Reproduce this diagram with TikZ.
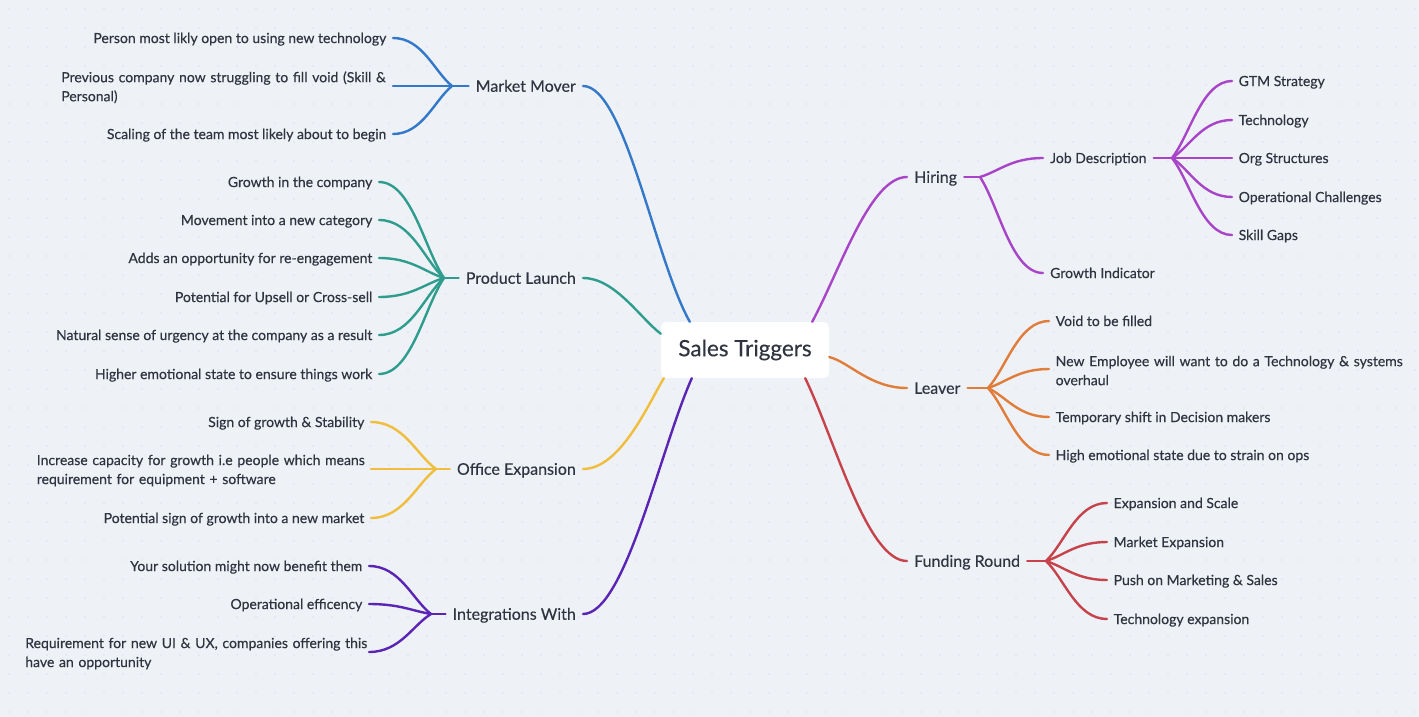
\documentclass[tikz,border=0pt]{standalone}
\usepackage{fontspec}
\setmainfont{Lato}[FakeBold=0.3]
\usetikzlibrary{calc}
\definecolor{bgc}{HTML}{EEF1F6}
\definecolor{dotc}{HTML}{DFE3EA}
\definecolor{txt}{HTML}{2F3440}
\definecolor{cblue}{HTML}{3479C9}
\definecolor{cteal}{HTML}{2E9D8E}
\definecolor{cyel}{HTML}{F0BE3C}
\definecolor{cind}{HTML}{5A24B4}
\definecolor{cmag}{HTML}{A844C8}
\definecolor{cora}{HTML}{E07D3A}
\definecolor{cred}{HTML}{C6434C}
\newcommand\firstline[1]{\mbox{\rule{0pt}{13.5pt}#1}}
\tikzset{
 rootbox/.style={fill=white, rounded corners=5pt, minimum width=168pt, minimum height=56pt, font=\fontsize{22.5}{26}\selectfont, text=txt, inner sep=0pt},
 topic/.style={font=\fontsize{16}{19}\selectfont, text=txt, inner xsep=7pt, inner ysep=0pt, text height=14.8pt, text depth=3.3pt},
 leaf/.style={font=\fontsize{14}{19}\selectfont, text=txt, inner xsep=6.5pt, inner ysep=0pt, text height=13pt, text depth=2.9pt},
 leaftwo/.style={font=\fontsize{14}{19}\selectfont, text=txt, inner xsep=6.5pt, inner ysep=0pt, align=left},
 link/.style={line width=2.4pt, line cap=round, line join=round},
 branch/.style={to path={let \p1=(\tikztostart), \p2=(\tikztotarget) in .. controls ({\x1+0.3*(\x2-\x1)},{\y1+0.3*(\y2-\y1)}) and ({0.5*(\x1+\x2)},\y2) .. (\tikztotarget)}},
}
\begin{document}
\begin{tikzpicture}[x=1pt,y=-1pt]
\fill[bgc] (0,0) rectangle (1419,717);
\useasboundingbox (0,0) rectangle (1419,717);
\foreach \i in {0,...,74}{\foreach \j in {0,...,37}{\fill[dotc] ({\i*19+9},{\j*19+9}) circle (0.9pt);}}

\node[rootbox] (root) at (745,350) {Sales Triggers};

% left topics
\node[topic, anchor=east] (mm) at (583,86) {Market Mover};
\node[topic, anchor=east] (pl) at (583,278) {Product Launch};
\node[topic, anchor=east] (oe) at (583,469) {Office Expansion};
\node[topic, anchor=east] (iw) at (583,614) {Integrations With};
\coordinate (mmf) at (452,86);
\coordinate (plf) at (444,278);
\coordinate (oef) at (436,469);
\coordinate (iwf) at (431,614);

% market mover leaves
\node[leaf, anchor=east] (mm1) at (393,38) {Person most likly open to using new technology};
\node[leaftwo, anchor=east, text width=325pt] (mm2) at (393,86) {\firstline{Previous company now struggling to fill void (Skill \&}\\Personal)};
\node[leaf, anchor=east] (mm3) at (393,134) {Scaling of the team most likely about to begin};

% product launch leaves
\node[leaf, anchor=east] (pl1) at (379,182) {Growth in the company};
\node[leaf, anchor=east] (pl2) at (379,220) {Movement into a new category};
\node[leaf, anchor=east] (pl3) at (379,258) {Adds an opportunity for re-engagement};
\node[leaf, anchor=east] (pl4) at (379,297) {Potential for Upsell or Cross-sell};
\node[leaf, anchor=east] (pl5) at (379,335) {Natural sense of urgency at the company as a result};
\node[leaf, anchor=east] (pl6) at (379,374) {Higher emotional state to ensure things work};

% office expansion leaves
\node[leaf, anchor=east] (oe1) at (371,422) {Sign of growth \& Stability};
\node[leaftwo, anchor=east, text width=327.5pt] (oe2) at (371,469) {\firstline{Increase capacity for growth i.e people which means}\\requirement for equipment + software};
\node[leaf, anchor=east] (oe3) at (371,518) {Potential sign of growth into a new market};

% integrations leaves
\node[leaf, anchor=east] (iw1) at (369,566) {Your solution might now benefit them};
\node[leaf, anchor=east] (iw2) at (369,604) {Operational efficency};
\node[leaftwo, anchor=east, text width=337pt] (iw3) at (369,652) {\firstline{Requirement for new UI \& UX, companies offering this}\\have an opportunity};

% right topics
\node[topic, anchor=west] (hi) at (907,177) {Hiring};
\node[topic, anchor=west] (lv) at (907,388) {Leaver};
\node[topic, anchor=west] (fr) at (907,561) {Funding Round};
\coordinate (hif) at (980,177);
\coordinate (lvf) at (988,388);
\coordinate (frf) at (1046,561);

\node[leaf, anchor=west, inner xsep=7pt] (jd) at (1043,158) {Job Description};
\node[leaf, anchor=west, inner xsep=7pt] (gi) at (1043,273) {Growth Indicator};
\coordinate (jdf) at (1172,158);
\node[leaf, anchor=west] (jd1) at (1232,81) {GTM Strategy};
\node[leaf, anchor=west] (jd2) at (1232,120) {Technology};
\node[leaf, anchor=west] (jd3) at (1232,158) {Org Structures};
\node[leaf, anchor=west] (jd4) at (1232,197) {Operational Challenges};
\node[leaf, anchor=west] (jd5) at (1232,235) {Skill Gaps};

\node[leaf, anchor=west] (lv1) at (1049,321) {Void to be filled};
\node[leaftwo, anchor=west, text width=345pt] (lv2) at (1049,369) {\firstline{New Employee will want to do a Technology \& systems}\\overhaul};
\node[leaf, anchor=west] (lv3) at (1049,417) {Temporary shift in Decision makers};
\node[leaf, anchor=west] (lv4) at (1049,455) {High emotional state due to strain on ops};

\node[leaf, anchor=west] (fr1) at (1107,503) {Expansion and Scale};
\node[leaf, anchor=west] (fr2) at (1107,542) {Market Expansion};
\node[leaf, anchor=west] (fr3) at (1107,580) {Push on Marketing \& Sales};
\node[leaf, anchor=west] (fr4) at (1107,619) {Technology expansion};

% main branches
\draw[link, cblue] (mm.east) .. controls +(42,0) and +(-35,-62) .. ($(root.north west)+(29,0)$);
\draw[link, cteal] (pl.east) .. controls +(32,0) and +(-21,-16) .. ($(root.north west)+(0,12)$);
\draw[link, cyel] (oe.east) .. controls +(37,0) and +(-16,27) .. ($(root.south west)+(3,0)$);
\draw[link, cind] (iw.east) .. controls +(42,0) and +(-32,72) .. ($(root.south west)+(31,0)$);
\draw[link, cmag] (hi.west) .. controls +(-37,0) and +(28,-52) .. ($(root.north east)+(-17,0)$);
\draw[link, cora] (lv.west) .. controls +(-37,0) and +(20,5) .. ($(root.east)+(0,7)$);
\draw[link, cred] (fr.west) .. controls +(-40,0) and +(30,62) .. ($(root.south east)+(-24,0)$);

% left sub branches
\draw[link, cblue] (mm.west) -- (mmf);
\foreach \q in {mm1,mm2,mm3} \draw[link, cblue] (mmf) to[branch] (\q.east);
\draw[link, cteal] (pl.west) -- (plf);
\foreach \q in {pl1,pl2,pl3,pl4,pl5,pl6} \draw[link, cteal] (plf) to[branch] (\q.east);
\draw[link, cyel] (oe.west) -- (oef);
\foreach \q in {oe1,oe2,oe3} \draw[link, cyel] (oef) to[branch] (\q.east);
\draw[link, cind] (iw.west) -- (iwf);
\foreach \q in {iw1,iw2,iw3} \draw[link, cind] (iwf) to[branch] (\q.east);

% right sub branches
\draw[link, cmag] (hi.east) -- (hif);
\foreach \q in {jd,gi} \draw[link, cmag] (hif) to[branch] (\q.west);
\draw[link, cmag] (jd.east) -- (jdf);
\foreach \q in {jd1,jd2,jd3,jd4,jd5} \draw[link, cmag] (jdf) to[branch] (\q.west);
\draw[link, cora] (lv.east) -- (lvf);
\foreach \q in {lv1,lv2,lv3,lv4} \draw[link, cora] (lvf) to[branch] (\q.west);
\draw[link, cred] (fr.east) -- (frf);
\foreach \q in {fr1,fr2,fr3,fr4} \draw[link, cred] (frf) to[branch] (\q.west);
\end{tikzpicture}
\end{document}
